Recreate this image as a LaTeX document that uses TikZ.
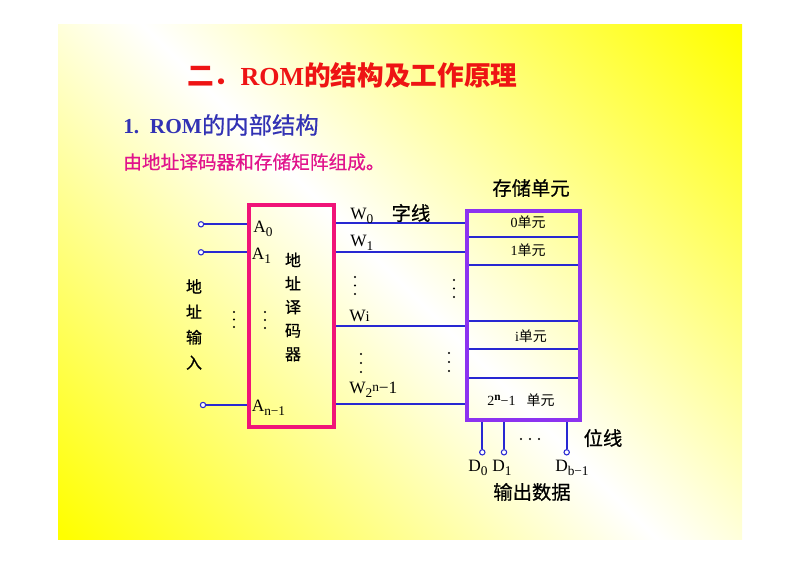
\documentclass[tikz,border=0pt]{standalone}
\usepackage{fontspec}
\setmainfont{Liberation Serif}
\newfontfamily\cjk{Noto Sans CJK SC}
\newfontfamily\cjkm{Noto Sans CJK SC}[FakeBold=0.6]
\definecolor{titred}{RGB}{238,20,20}
\definecolor{subblue}{RGB}{50,50,180}
\definecolor{magtext}{RGB}{225,20,140}
\definecolor{decpink}{RGB}{240,20,120}
\definecolor{mempurple}{RGB}{140,50,240}
\definecolor{wireblue}{RGB}{40,40,210}
\pgfdeclareverticalshading{slidebg}{100bp}{color(0bp)=(yellow); color(15bp)=(yellow); color(50bp)=(white); color(85bp)=(yellow); color(100bp)=(yellow)}
\newcommand\dn[1]{\raisebox{-0.45ex}{\fontsize{10}{11}\selectfont #1}}
\newcommand\up[1]{\raisebox{0.8ex}{\fontsize{8.5}{9}\selectfont\bfseries #1}}
\begin{document}
\begin{tikzpicture}[x=0.75pt,y=-0.75pt,
  wire/.style={draw=wireblue,line width=1.3pt},
  term/.style={circle,draw=wireblue,fill=white,line width=0.8pt,inner sep=0pt,minimum size=4pt},
  lbl/.style={inner sep=0pt,font=\fontsize{13}{14}\selectfont},
  vch/.style={inner sep=0pt,align=center},
  cell/.style={inner sep=0pt,font=\fontsize{10.5}{11}\selectfont},
  head/.style={inner sep=0pt,font=\cjkm\fontsize{14.5}{15}\selectfont},
  boxarea/.style={inner sep=0pt,outer sep=0pt},
  dot/.style={fill=black},
]
\useasboundingbox (0,0) rectangle (800,566);
\fill[white] (0,0) rectangle (800,566);
\shade[shading=slidebg,shading angle=-45] (58,25) rectangle (742,539);

% titles
\node[anchor=west,inner sep=0pt,text=titred] (title) at (187,75)
  {\cjk\bfseries\fontsize{20}{22}\selectfont 二．{\rmfamily\bfseries\fontsize{19.5}{22}\selectfont ROM}的结构及工作原理};
\node[anchor=west,inner sep=0pt,text=subblue] (sub) at (123,125)
  {\bfseries\fontsize{16}{18}\selectfont 1.\hspace{0.5em}ROM{\cjkm\mdseries\fontsize{17.5}{18}\selectfont 的内部结构}};
\node[anchor=west,inner sep=0pt,text=magtext,font=\cjkm\fontsize{14}{16}\selectfont] (desc) at (123,162)
  {由地址译码器和存储矩阵组成。};

% box areas
\node[boxarea,minimum width=64pt,minimum height=166.5pt] (dec) at (291.3,316) {};
\node[boxarea,minimum width=84.75pt,minimum height=156.75pt] (mem) at (523.5,315.5) {};

% address inputs
\node[term] (i0) at (201,224.3) {};
\node[term] (i1) at (201,252.3) {};
\node[term] (in) at (203,405) {};
\draw[wire] (i0) -- (i0 -| dec.west);
\draw[wire] (i1) -- (i1 -| dec.west);
\draw[wire] (in) -- (in -| dec.west);

% word lines
\coordinate (w0) at (400,223.3);
\coordinate (w1) at (400,252.3);
\coordinate (wi) at (400,326);
\coordinate (wn) at (400,403.7);
\draw[wire] (w0 -| dec.east) -- (w0 -| mem.west);
\draw[wire] (w1 -| dec.east) -- (w1 -| mem.west);
\draw[wire] (wi -| dec.east) -- (wi -| mem.west);
\draw[wire] (wn -| dec.east) -- (wn -| mem.west);

% memory rows
\foreach \yy [count=\k] in {236.7,265,321,349.3,378.3}{
  \coordinate (r\k) at (520,\yy);
  \draw[wire] (r\k -| mem.west) -- (r\k -| mem.east);
}

% bit lines
\node[term] (d0) at (482.3,452.3) {};
\node[term] (d1) at (504,452.3) {};
\node[term] (db) at (566.7,452.3) {};
\draw[wire] (d0) -- (d0 |- mem.south);
\draw[wire] (d1) -- (d1 |- mem.south);
\draw[wire] (db) -- (db |- mem.south);

% borders
\draw[draw=decpink,line width=3pt] (dec.south west) rectangle (dec.north east);
\draw[draw=mempurple,line width=3pt] (mem.south west) rectangle (mem.north east);

% decoder labels
\node[lbl,anchor=base west] (la0) at (253,233) {A\dn{0}};
\node[lbl,anchor=base west] (la1) at (251.5,260) {A\dn{1}};
\node[lbl,anchor=base west] (lan) at (251.5,412) {A\dn{n−1}};
\node[vch,font=\cjkm\fontsize{12}{17.6}\selectfont] (decname) at (293,307) {地\\址\\译\\码\\器};
\node[vch,font=\cjkm\fontsize{12}{19}\selectfont] (inname) at (194,324.5) {地\\址\\输\\入};

% word labels
\node[lbl,anchor=base west] (lw0) at (350,220) {W\dn{0}};
\node[lbl,anchor=base west] (lw1) at (350,247) {W\dn{1}};
\node[lbl,anchor=base west] (lwi) at (349,322) {W{\fontsize{11}{12}\selectfont i}};
\node[lbl,anchor=base west] (lwn) at (349,394) {W\dn{2}\raisebox{0.35ex}{\fontsize{10}{11}\selectfont n}−1};
\node[head] (zx) at (411,213) {字线};

% memory labels
\node[head] (mhead) at (531,188) {存储单元};
\node[cell] (c0) at (528,222) {0{\cjk 单元}};
\node[cell] (c1) at (528,250) {1{\cjk 单元}};
\node[cell] (ci) at (531,336) {i{\cjk 单元}};
\node[cell] (cn) at (521,400) {2\up{n}−1\hspace{0.8em}{\cjk 单元}};

% bit labels
\node[lbl,anchor=base west] (ld0) at (468,472) {D\dn{0}};
\node[lbl,anchor=base west] (ld1) at (492,472) {D\dn{1}};
\node[lbl,anchor=base west] (ldb) at (555,472) {D\dn{b−1}};
\node[head] (wx) at (603,438) {位线};
\node[head] (out) at (532,492) {输出数据};

% dots
\foreach \px/\py in {234/312,234/319.5,234/327,265/312,265/320,265/328,
  355/277,355/285.5,355/294,454/280,454/288.5,454/297,
  361/354,361/363,361/372,449/353,449/362,449/371,
  521/439,530/439,539/439}{
  \fill[dot] (\px,\py) circle[radius=0.8pt];
}
\end{tikzpicture}
\end{document}
